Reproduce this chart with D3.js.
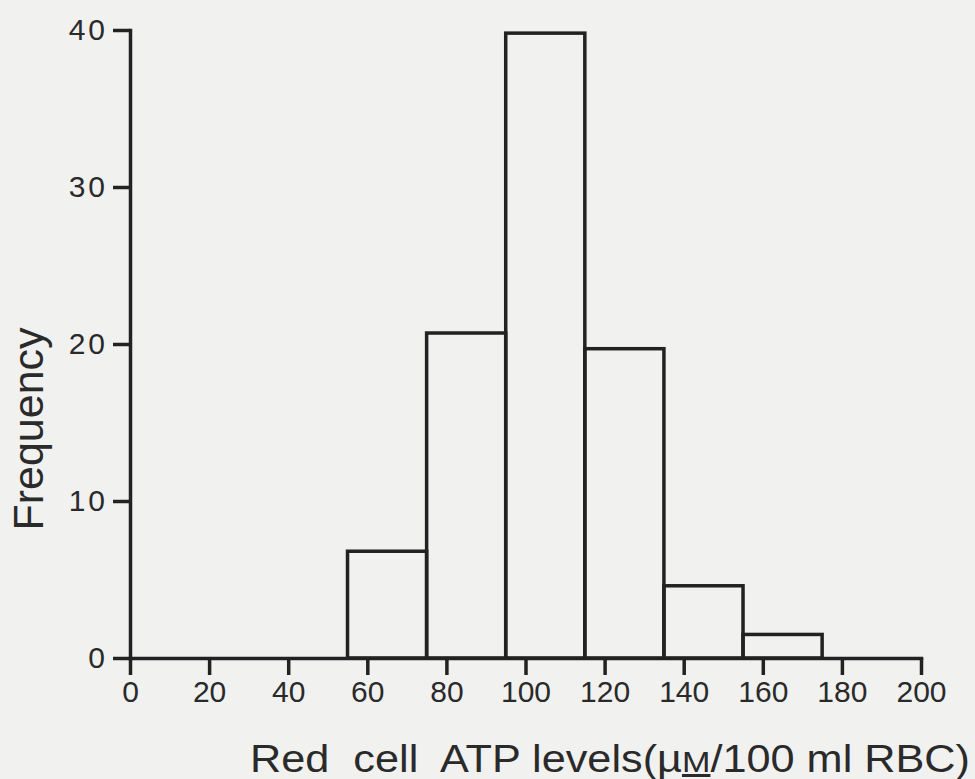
<!DOCTYPE html>
<html>
<head>
<meta charset="utf-8">
<script src="https://cdn.jsdelivr.net/npm/d3@7"></script>
<style>
  body { margin: 0; background: #f1f1f0; }
  svg { display: block; }
  .axis path, .axis line { stroke: #222; stroke-width: 3.5; }
</style>
</head>
<body>
<div id="chart"></div>
<script>
// histogram bins (lower / upper edge) and frequencies
const binStart = [55, 75, 95, 115, 135, 155];
const binEnd = [75, 95, 115, 135, 155, 175];
const frequency = [6.8, 20.7, 39.8, 19.7, 4.6, 1.5];
const xTicks = [0, 20, 40, 60, 80, 100, 120, 140, 160, 180, 200];
const yTicks = [0, 10, 20, 30, 40];

const width = 975, height = 779;
const font = "Liberation Sans, Arial, sans-serif";

const svg = d3.select("#chart")
  .append("svg")
  .attr("width", width)
  .attr("height", height);

const x = d3.scaleLinear().domain([0, 200]).range([130, 921]);
const y = d3.scaleLinear().domain([0, 40]).range([658, 30]);

const bins = binStart.map((s, i) => ({ x0: s, x1: binEnd[i], n: frequency[i] }));

// bars (outline only)
svg.append("g")
  .selectAll("rect")
  .data(bins)
  .enter().append("rect")
  .attr("x", d => x(d.x0))
  .attr("y", d => y(d.n))
  .attr("width", d => x(d.x1) - x(d.x0))
  .attr("height", d => y(0) - y(d.n))
  .attr("fill", "none")
  .attr("stroke", "#222")
  .attr("stroke-width", 3.5);

// x axis
const gx = svg.append("g")
  .attr("class", "axis")
  .attr("transform", `translate(0,${y(0)})`)
  .call(d3.axisBottom(x).tickValues(xTicks).tickSize(17).tickSizeOuter(0).tickPadding(6));
gx.attr("font-size", 30).attr("font-family", font);
gx.selectAll("text").attr("fill", "#2a2a2a");

// y axis
const gy = svg.append("g")
  .attr("class", "axis")
  .attr("transform", `translate(${x(0)},0)`)
  .call(d3.axisLeft(y).tickValues(yTicks).tickSize(17).tickSizeOuter(0).tickPadding(5));
gy.attr("font-size", 30).attr("font-family", font);
gy.selectAll("text").attr("fill", "#2a2a2a").style("letter-spacing", "3px");

svg.selectAll(".axis .domain").attr("stroke-linecap", "square");

// axis titles
svg.append("text")
  .attr("transform", "translate(43,429) rotate(-90)")
  .attr("text-anchor", "middle")
  .style("font-family", font)
  .style("font-size", "43px")
  .style("fill", "#2a2a2a")
  .text("Frequency");

const xt = svg.append("text")
  .attr("x", 250)
  .attr("y", 772)
  .attr("textLength", 720)
  .attr("lengthAdjust", "spacingAndGlyphs")
  .style("white-space", "pre")
  .style("font-family", font)
  .style("font-size", "38px")
  .style("fill", "#2a2a2a");
xt.append("tspan").text("Red  cell  ATP levels(µ");
xt.append("tspan").style("text-decoration", "underline").style("font-size", "30px").text("M");
xt.append("tspan").text("/100 ml RBC)");
</script>
</body>
</html>
